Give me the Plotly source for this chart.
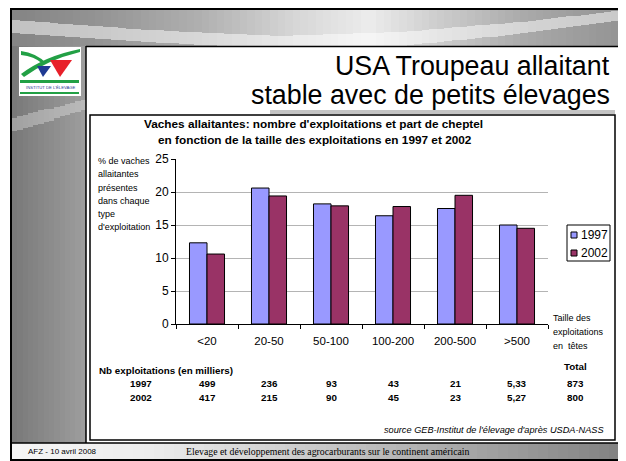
import plotly.graph_objects as go

# ---------------- data ----------------
categories = ["<20", "20-50", "50-100", "100-200", "200-500", ">500"]
share_1997 = [12.3, 20.6, 18.2, 16.4, 17.5, 15.0]
share_2002 = [10.6, 19.4, 17.9, 17.8, 19.5, 14.5]
farms_1997 = ["499", "236", "93", "43", "21", "5,33"]
farms_2002 = ["417", "215", "90", "45", "23", "5,27"]
total_1997 = "873"
total_2002 = "800"
years = ["1997", "2002"]
y_ticks = [0, 5, 10, 15, 20, 25]

C1997 = "#9999FF"
C2002 = "#993366"
SANS = "Arial, Liberation Sans, sans-serif"
SERIF = "Times New Roman, Liberation Serif, serif"

# the page body has an 8px margin: the figure is sized/offset to fill the window
OX, OY = 8, 8
FW, FH = 618, 453


def X(p):
    return (p - OX) / FW


def Y(p):
    return 1 - (p - OY) / FH


shapes = []


def rect(x0, y0, x1, y1, fill=None, line=None, lw=0, layer="below"):
    shapes.append(dict(
        type="rect", xref="paper", yref="paper", layer=layer,
        x0=X(x0), x1=X(x1), y0=Y(y1), y1=Y(y0),
        fillcolor=fill if fill else "rgba(0,0,0,0)",
        line=dict(color=line if line else "rgba(0,0,0,0)", width=lw)))


def hline(x0, x1, y, lw=1.5, layer="above", color="black"):
    shapes.append(dict(type="line", xref="paper", yref="paper", layer=layer,
                       x0=X(x0), x1=X(x1), y0=Y(y), y1=Y(y),
                       line=dict(color=color, width=lw)))


def vline(x, y0, y1, lw=1.5, layer="above", color="black"):
    shapes.append(dict(type="line", xref="paper", yref="paper", layer=layer,
                       x0=X(x), x1=X(x), y0=Y(y0), y1=Y(y1),
                       line=dict(color=color, width=lw)))


def path(d, fill):
    shapes.append(dict(type="path", xref="paper", yref="paper", layer="above",
                       path=d, fillcolor=fill, line=dict(color="rgba(0,0,0,0)", width=0)))


def P(x, y):
    return "%.5f,%.5f" % (X(x), Y(y))


def interp(pts, x):
    for j in range(len(pts) - 1):
        if pts[j][0] <= x <= pts[j + 1][0]:
            t = (x - pts[j][0]) / (pts[j + 1][0] - pts[j][0])
            return pts[j][1] + t * (pts[j + 1][1] - pts[j][1])
    return pts[-1][1] if x > pts[-1][0] else pts[0][1]


fig = go.Figure()


def grad_heatmap(x0, x1, y0, y1, nx, dy, stops, light=None, mix=0.5):
    """grey gradient decoration drawn as a heatmap on a full-page pixel axis"""
    xe = [x0 + (x1 - x0) * i / nx for i in range(nx + 1)]
    ny = max(1, int(round((y1 - y0) / dy)))
    ye = [y0 + (y1 - y0) * j / ny for j in range(ny + 1)]
    z = []
    for j in range(ny):
        ym = (ye[j] + ye[j + 1]) / 2
        row = []
        for i in range(nx):
            xm = (xe[i] + xe[i + 1]) / 2
            v = interp(stops, xm)
            if light and interp(light[0], xm) <= ym <= interp(light[1], xm):
                v = v + (255 - v) * mix
            row.append(v)
        z.append(row)
    fig.add_trace(go.Heatmap(x=xe, y=ye, z=z, zmin=0, zmax=255, zsmooth=False,
                             colorscale=[[0, "#000000"], [1, "#ffffff"]],
                             showscale=False, hoverinfo="skip",
                             xaxis="x2", yaxis="y2"))


# ---------------- white panels (below the chart) ----------------
rect(86, 46, 619, 443, fill="white")
rect(270, 110, 615, 114, fill="#c4c4c4")
rect(90, 115, 615, 440, fill="white", line="black", lw=1.5)

# ---------------- bars ----------------
fig.add_trace(go.Bar(x=categories, y=share_1997, name=years[0],
                     marker=dict(color=C1997, line=dict(color="black", width=1))))
fig.add_trace(go.Bar(x=categories, y=share_2002, name=years[1],
                     marker=dict(color=C2002, line=dict(color="black", width=1))))

# ---------------- slide decoration ----------------
grad_heatmap(12, 619, 8, 46, 80, 1,
             [(12, 0x84), (100, 0x94), (200, 0xb0), (300, 0xd8), (370, 0xec),
              (440, 0xcc), (530, 0xa8), (619, 0x94)],
             light=([(12, 20), (150, 30), (280, 36), (400, 32), (520, 22), (619, 11)],
                    [(12, 33), (150, 42), (280, 49), (400, 46), (520, 34), (619, 21)]),
             mix=0.5)
grad_heatmap(12, 86, 46, 443, 14, 1.5, [(12, 0x78), (86, 0x9e)],
             light=([(12, 118), (86, 100)], [(12, 132), (86, 110)]), mix=0.3)
grad_heatmap(12, 619, 443, 461, 60, 18,
             [(12, 0xf6), (150, 0xec), (330, 0xc6), (619, 0x82)])

# logo
rect(19, 47, 81, 96, fill="white", layer="above")
GREEN = "#22a045"
path("M" + P(21, 74) + " Q" + P(45, 56) + " " + P(80, 49) + " L" + P(80, 52) +
     " Q" + P(47, 60) + " " + P(24, 77) + " Z", GREEN)
path("M" + P(21, 51) + " Q" + P(36, 53) + " " + P(46, 63) + " L" + P(43, 64) +
     " Q" + P(34, 56) + " " + P(21, 55) + " Z", GREEN)
path("M" + P(37, 66) + " L" + P(51, 66) + " L" + P(43, 77) + " Z", "#1f3a93")
path("M" + P(50, 60) + " L" + P(72, 60) + " L" + P(60, 77) + " Z", "#e8202a")
rect(20, 80, 79, 83, fill=GREEN, layer="above")
rect(20, 92, 79, 94, fill=GREEN, layer="above")

# borders
hline(86, 619, 46.5)
vline(86, 46, 443)
hline(12, 619, 443)
rect(11, 9, 620, 460, line="black", lw=2, layer="above")

# legend (manual box)
rect(567, 225, 610, 261, fill="white", line="black", lw=1, layer="above")
rect(571, 232, 577, 238, fill=C1997, line="black", lw=1, layer="above")
rect(571, 250, 577, 256, fill=C2002, line="black", lw=1, layer="above")

ann = []


def text(x, y, s, size, xanchor="center", bold=False, italic=False, family=SANS,
         xref="paper", color="black"):
    if bold:
        s = "<b>" + s + "</b>"
    if italic:
        s = "<i>" + s + "</i>"
    ann.append(dict(x=X(x) if xref == "paper" else x, y=Y(y), xref=xref, yref="paper",
                    text=s, showarrow=False, xanchor=xanchor, yanchor="middle",
                    font=dict(size=size, family=family, color=color)))


# slide title
text(612, 66, "USA Troupeau allaitant", 26.8, xanchor="right")
text(612, 95, "stable avec de petits élevages", 26.8, xanchor="right")
text(50, 87.5, "INSTITUT DE L'ÉLEVAGE", 4.2, color="#1f3a93")

# chart title
text(313, 124, "Vaches allaitantes: nombre d'exploitations et part de cheptel", 11.8, bold=True)
text(315, 140, "en fonction de la taille des exploitations en 1997 et 2002", 11.8, bold=True)

# y axis title (one line each)
for i, line in enumerate(["% de vaches", "allaitantes", "présentes", "dans chaque",
                          "type", "d'exploitation"]):
    text(96, 161 + i * 13.3, line, 9, xanchor="left")

# x axis title
for i, line in enumerate(["Taille des", "exploitations", "en  têtes"]):
    text(551, 318 + i * 14, line, 9, xanchor="left")

# legend labels
text(579, 235, years[0], 12, xanchor="left")
text(579, 253, years[1], 12, xanchor="left")

# table
TS = 9.8
text(97, 370, "Nb exploitations (en milliers)", TS, xanchor="left", bold=True)
text(575, 366, "Total", TS, bold=True)
text(141, 383, years[0], TS, bold=True)
text(141, 397, years[1], TS, bold=True)
for c, v1, v2 in zip(categories, farms_1997, farms_2002):
    text(c, 383, v1, TS, bold=True, xref="x")
    text(c, 397, v2, TS, bold=True, xref="x")
text(575, 383, total_1997, TS, bold=True)
text(575, 397, total_2002, TS, bold=True)

# source & footer
text(606, 430, "source GEB-Institut de l'élevage d'après USDA-NASS", 9.2,
     xanchor="right", italic=True)
text(26, 451, "AFZ - 10 avril 2008", 8, xanchor="left")
text(328, 451, "Elevage et développement des agrocarburants sur le continent américain",
     9.8, family=SERIF)

fig.update_layout(
    width=FW, height=FH, autosize=False,
    margin=dict(l=0, r=0, t=0, b=0, pad=0, autoexpand=False),
    paper_bgcolor="white", plot_bgcolor="rgba(0,0,0,0)",
    showlegend=False, hovermode=False,
    barmode="group", bargap=0.435, bargroupgap=0,
    shapes=shapes, annotations=ann,
    font=dict(family=SANS, color="black"),
    xaxis=dict(domain=[X(176), X(548)], type="category", showline=True,
               linecolor="black", linewidth=1, ticks="outside", tickson="boundaries",
               ticklen=4, tickcolor="black", tickfont=dict(size=11.5, family=SANS),
               showgrid=False, fixedrange=True, ticklabelstandoff=6, automargin=False),
    yaxis=dict(domain=[Y(324), Y(159)], range=[0, 25], tickvals=y_ticks,
               showgrid=True, gridcolor="#b4b4b4", gridwidth=1, showline=True,
               linecolor="black", linewidth=1, ticks="outside", ticklen=4,
               tickcolor="black", tickfont=dict(size=12, family=SANS),
               zeroline=False, fixedrange=True, automargin=False),
    xaxis2=dict(domain=[0, 1], range=[OX, OX + FW], visible=False, fixedrange=True,
                anchor="y2", showgrid=False, zeroline=False),
    yaxis2=dict(domain=[0, 1], range=[OY + FH, OY], visible=False, fixedrange=True,
                anchor="x2", showgrid=False, zeroline=False),
)

fig.write_html("out.html", config={"displayModeBar": False})
